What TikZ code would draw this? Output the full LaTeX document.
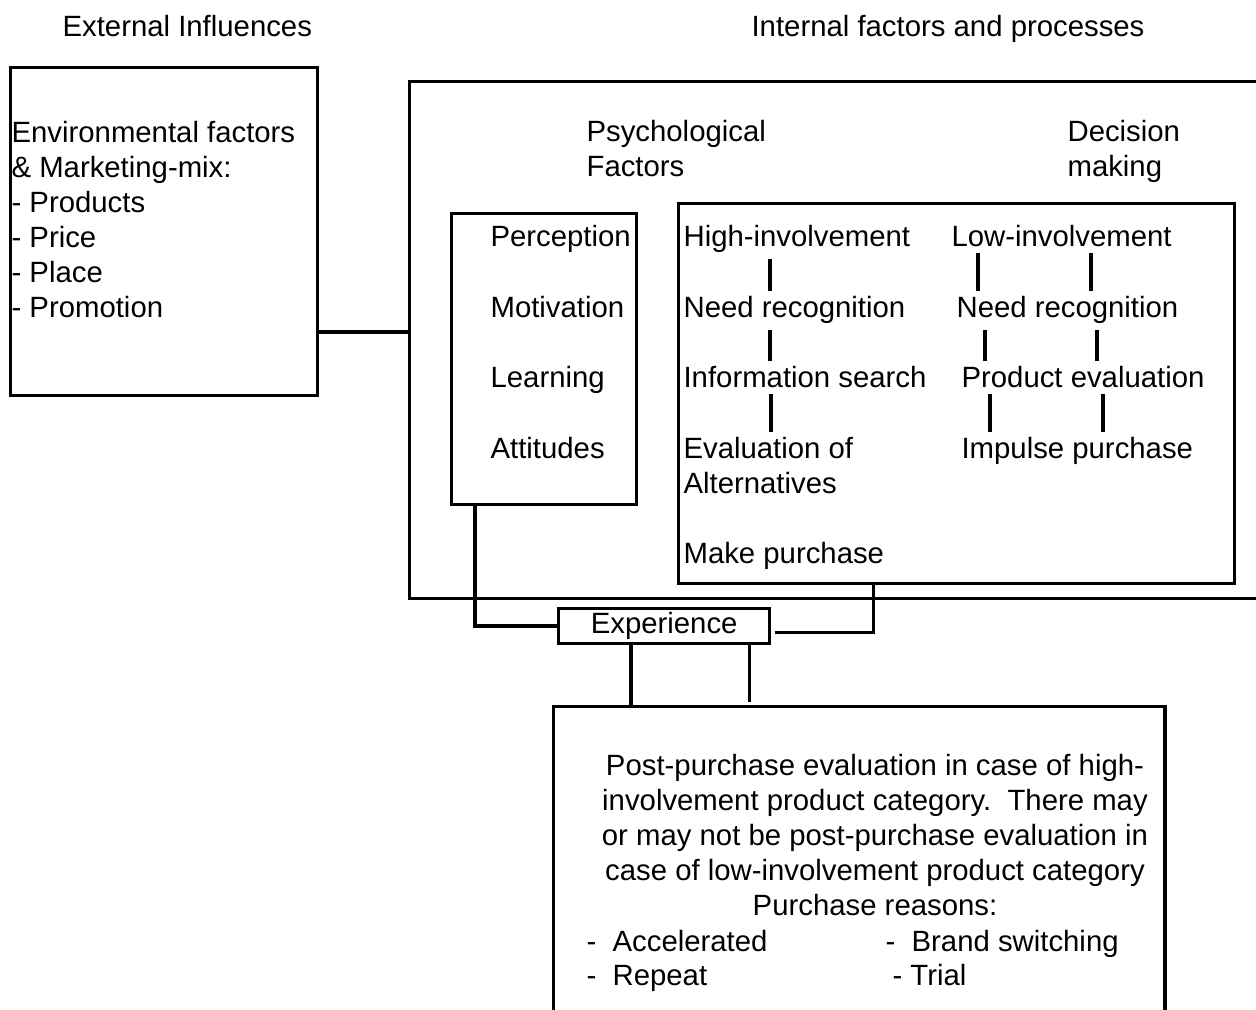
\documentclass[tikz,border=0pt]{standalone}
\usepackage{fontspec}
\setmainfont{Liberation Sans}
\usetikzlibrary{positioning, calc}
\newcommand{\diagfont}{\fontsize{8.34pt}{10pt}\selectfont}

\begin{document}
\begin{tikzpicture}[x=0.01cm, y=-0.01cm, font=\diagfont, line width=0.9pt,
  box/.style={draw, anchor=north west, inner sep=0pt},
  lbl/.style={anchor=base west, inner xsep=0pt, inner ysep=0.04cm}]
  \useasboundingbox (0,0) rectangle (1256,1010);
  % Headers
  \node[lbl] (ext) at (61,37) {External Influences};
  \node[lbl] (int) at (750,37) {Internal factors and processes};
  % Boxes
  \node[box, minimum width=3.07cm, minimum height=3.28cm] (env) at (9,66) {};
  \node[box, minimum width=8.70cm, minimum height=5.17cm] (inner) at (408,80) {};
  \node[box, minimum width=1.85cm, minimum height=2.91cm] (psych) at (450,212) {};
  \node[box, minimum width=5.56cm, minimum height=3.80cm] (dec) at (677,202) {};
  \node[box, minimum width=2.11cm, minimum height=0.35cm] (exp) at (557,607) {Experience};
  \node[box, minimum width=6.11cm, minimum height=3.20cm] (post) at (552,705) {};
  % Environment and marketing mix (base = last line)
  \node[lbl, align=left] (mix) at (10,318)
    {Environmental factors\\\& Marketing-mix:\\- Products\\- Price\\- Place\\- Promotion};
  % Psychological factors
  \node[lbl, align=left] (psyhead) at (585,177) {Psychological\\Factors};
  \foreach \w [count=\i from 0] in {Perception, Motivation, Learning, Attitudes}
    \node[lbl] (ps\i) at (489, {247+70.5*\i}) {\w};
  % Decision making
  \node[lbl, align=left] (dechead) at (1066,177) {Decision\\making};
  \node[lbl] (hi1) at (682,247) {High-involvement};
  \node[lbl] (hi2) at (682,318) {Need recognition};
  \node[lbl] (hi3) at (682,388) {Information search};
  \node[lbl, align=left] (hi4) at (682,494) {Evaluation of\\Alternatives};
  \node[lbl] (buy) at (682,564) {Make purchase};
  \node[lbl] (lo1) at (950,247) {Low-involvement};
  \node[lbl] (lo2) at (955,318) {Need recognition};
  \node[lbl] (lo3) at (960,388) {Product evaluation};
  \node[lbl] (lo4) at (960,459) {Impulse purchase};
  \foreach \a/\b/\x in {hi1/hi2/770, hi2/hi3/770, hi3/hi4/771}
    \draw (\a.south -| \x,0) -- (\b.north -| \x,0);
  \foreach \a/\b/\l/\r in {lo1/lo2/978/1091, lo2/lo3/985/1097, lo3/lo4/990/1103} {
    \draw (\a.south -| \l,0) -- (\b.north -| \l,0);
    \draw (\a.south -| \r,0) -- (\b.north -| \r,0);
  }
  % Links
  \draw (env.east |- 0,332) -- (inner.west |- 0,332);
  \draw ([xshift=0.25cm]psych.south west) |- (exp.west);
  \draw ([xshift=1.96cm]dec.south west) |- ([xshift=0.04cm,yshift=-0.06cm]exp.east);
  \coordinate (e1) at ([xshift=0.74cm]exp.south west);
  \coordinate (e2) at ([xshift=1.92cm]exp.south west);
  \draw (e1) -- (e1 |- post.north);
  \draw (e2) -- ([yshift=0.03cm]e2 |- post.north);
  % Post-purchase
  \node[lbl, align=center, anchor=base] (note) at (875,916)
    {Post-purchase evaluation in case of high-\\involvement product category.\ \ There may\\or may not be post-purchase evaluation in\\case of low-involvement product category\\Purchase reasons:};
  \node[lbl] (r1) at (585,952) {-\ \ Accelerated};
  \node[lbl] (r2) at (884,952) {-\ \ Brand switching};
  \node[lbl] (r3) at (585,986) {-\ \ Repeat};
  \node[lbl] (r4) at (891,986) {- Trial};
\end{tikzpicture}
\end{document}
